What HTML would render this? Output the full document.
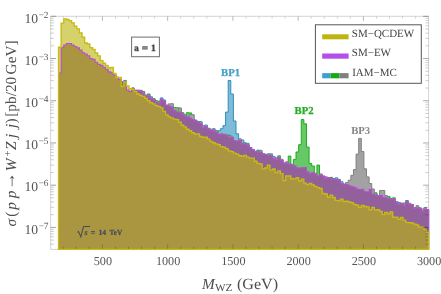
<!DOCTYPE html><html><head><meta charset="utf-8"><style>svg text{font-family:"Liberation Serif",serif;text-rendering:geometricPrecision;}html,body{margin:0;padding:0;background:#fff;}body{width:441px;height:294px;position:relative;overflow:hidden;font-family:"Liberation Serif",serif;}</style></head><body><svg width="441" height="294" viewBox="0 0 441 294" style="position:absolute;left:0;top:0;will-change:transform;opacity:0.999">
<rect width="441" height="294" fill="#fff"/>
<g fill="none" stroke="#c8c8c8" stroke-width="0.8">
<path d="M50.60 16.30H428.60"/>
<path d="M50.60 16.30V249.40"/>
<path d="M428.60 16.30V249.40"/>
<path d="M50.60 249.40H58.53"/>
</g>
<g stroke-linejoin="miter" stroke-width="1">
<path d="M58.53 249.40V73.53H61.14V46.54H63.75V44.07H66.36V43.33H68.97V43.88H71.58V45.06H74.19V44.84H76.80V47.88H79.41V50.38H82.02V50.84H84.63V53.96H87.24V56.39H89.85V58.37H92.46V59.98H95.07V61.46H97.68V64.15H100.29V63.38H102.90V67.45H105.51V69.59H108.12V71.28H110.73V73.06H113.34V74.79H115.95V77.37H118.56V80.23H121.17V82.42H123.78V80.46H126.39V90.46H129.00V89.44H131.61V89.90H134.22V90.32H136.83V90.31H139.44V91.31H142.05V94.48H144.66V96.06H147.27V94.32H149.88V96.84H152.49V99.40H155.10V102.63H157.71V103.08H160.32V97.90H162.93V100.06H165.54V105.84H168.15V106.01H170.76V108.40H173.37V108.60H175.98V112.10H178.59V112.51H181.20V113.68H183.81V115.86H186.42V117.66H189.03V117.77H191.64V120.32H194.25V120.00H196.86V121.51H199.47V121.63H202.08V127.13H204.69V125.01H207.30V129.71H209.91V130.15H212.52V128.71H215.13V132.78H217.74V130.80H220.35V128.70H222.96V125.60H225.57V112.10H228.18V80.50H230.79V94.00H233.40V121.00H236.01V133.80H238.62V139.00H241.23V140.00H243.84V142.99H246.45V143.31H249.06V148.27H251.67V149.57H254.28V151.85H256.89V150.11H259.50V152.50H262.11V153.64H264.72V154.91H267.33V153.86H269.94V155.27H272.55V156.57H275.16V157.86H277.77V158.14H280.38V160.16H282.99V163.95H285.60V163.83H288.21V163.39H290.82V164.32H293.43V166.60H296.04V168.50H298.65V168.88H301.26V168.85H303.87V168.58H306.48V172.21H309.09V172.34H311.70V173.47H314.31V174.91H316.92V175.91H319.53V175.36H322.14V176.14H324.75V178.28H327.36V177.68H329.97V179.25H332.58V178.60H335.19V177.82H337.80V181.18H340.41V181.71H343.02V184.80H345.63V185.23H348.24V186.21H350.85V185.20H353.46V187.00H356.07V189.28H358.68V187.34H361.29V189.95H363.90V190.52H366.51V192.42H369.12V188.18H371.73V192.98H374.34V193.64H376.95V195.53H379.56V196.23H382.17V197.73H384.78V197.88H387.39V198.49H390.00V199.57H392.61V199.87H395.22V202.84H397.83V202.45H400.44V203.40H403.05V205.10H405.66V200.51H408.27V204.11H410.88V204.63H413.49V208.31H416.10V207.90H418.71V207.82H421.32V209.75H423.93V207.58H426.54V209.75H428.60V249.40Z" fill="#7dbbd9" stroke="#338db9"/>
<path d="M58.53 249.40V73.12H61.14V48.50H63.75V45.03H66.36V43.80H68.97V44.41H71.58V45.77H74.19V45.48H76.80V48.63H79.41V49.73H82.02V53.20H84.63V54.11H87.24V56.10H89.85V59.50H92.46V58.19H95.07V62.90H97.68V65.18H100.29V64.27H102.90V67.40H105.51V69.92H108.12V72.30H110.73V73.75H113.34V75.74H115.95V77.28H118.56V78.17H121.17V81.54H123.78V82.65H126.39V87.89H129.00V89.97H131.61V88.06H134.22V91.33H136.83V90.84H139.44V91.09H142.05V91.46H144.66V96.27H147.27V94.10H149.88V98.81H152.49V98.65H155.10V100.70H157.71V101.30H160.32V100.24H162.93V101.17H165.54V106.12H168.15V106.49H170.76V107.23H173.37V107.60H175.98V107.80H178.59V108.20H181.20V112.70H183.81V114.97H186.42V112.70H189.03V112.90H191.64V119.44H194.25V120.81H196.86V121.80H199.47V124.24H202.08V127.71H204.69V126.92H207.30V128.22H209.91V131.24H212.52V131.39H215.13V130.63H217.74V134.90H220.35V135.43H222.96V134.77H225.57V134.97H228.18V135.30H230.79V138.35H233.40V140.51H236.01V141.94H238.62V139.90H241.23V143.43H243.84V143.00H246.45V145.00H249.06V147.90H251.67V150.08H254.28V151.74H256.89V151.14H259.50V153.25H262.11V154.51H264.72V155.18H267.33V154.96H269.94V155.73H272.55V158.44H275.16V160.81H277.77V155.84H280.38V160.75H282.99V164.11H285.60V162.94H288.21V156.10H290.82V165.92H293.43V159.40H296.04V152.00H298.65V144.70H301.26V119.60H303.87V123.80H306.48V147.10H309.09V163.50H311.70V166.00H314.31V173.47H316.92V165.10H319.53V174.30H322.14V176.66H324.75V179.07H327.36V178.50H329.97V177.36H332.58V179.57H335.19V179.99H337.80V179.40H340.41V183.74H343.02V184.03H345.63V184.67H348.24V186.47H350.85V186.31H353.46V186.59H356.07V187.71H358.68V190.23H361.29V189.45H363.90V192.47H366.51V192.67H369.12V190.28H371.73V192.19H374.34V192.76H376.95V196.92H379.56V194.27H382.17V197.18H384.78V196.50H387.39V196.48H390.00V198.31H392.61V197.84H395.22V202.53H397.83V204.09H400.44V203.79H403.05V203.06H405.66V202.91H408.27V204.70H410.88V205.27H413.49V207.86H416.10V206.64H418.71V209.31H421.32V211.66H423.93V209.45H426.54V210.01H428.60V249.40Z" fill="#66c866" stroke="#1eaa1e"/>
<path d="M58.53 249.40V71.64H61.14V47.30H63.75V43.82H66.36V44.46H68.97V43.44H71.58V46.05H74.19V45.80H76.80V48.57H79.41V49.83H82.02V53.35H84.63V54.20H87.24V54.15H89.85V59.24H92.46V57.39H95.07V62.48H97.68V65.17H100.29V63.94H102.90V67.06H105.51V69.97H108.12V72.26H110.73V73.66H113.34V75.04H115.95V77.50H118.56V80.07H121.17V82.33H123.78V82.90H126.39V88.20H129.00V90.80H131.61V88.02H134.22V90.23H136.83V90.22H139.44V90.27H142.05V93.40H144.66V95.72H147.27V94.93H149.88V98.32H152.49V99.70H155.10V103.14H157.71V103.72H160.32V99.92H162.93V101.84H165.54V105.00H168.15V103.90H170.76V103.70H173.37V110.31H175.98V112.70H178.59V108.00H181.20V114.77H183.81V114.70H186.42V116.81H189.03V114.50H191.64V114.70H194.25V121.24H196.86V123.02H199.47V123.72H202.08V125.46H204.69V127.62H207.30V129.09H209.91V129.22H212.52V129.91H215.13V130.85H217.74V134.97H220.35V133.69H222.96V135.04H225.57V136.56H228.18V137.64H230.79V136.87H233.40V141.09H236.01V142.00H238.62V138.94H241.23V144.80H243.84V143.77H246.45V145.42H249.06V147.90H251.67V149.46H254.28V151.93H256.89V152.92H259.50V150.37H262.11V154.26H264.72V154.32H267.33V156.75H269.94V153.83H272.55V158.36H275.16V158.24H277.77V157.92H280.38V159.31H282.99V162.91H285.60V161.76H288.21V163.99H290.82V164.44H293.43V165.73H296.04V168.81H298.65V168.61H301.26V168.06H303.87V168.39H306.48V172.63H309.09V173.60H311.70V173.37H314.31V173.23H316.92V176.49H319.53V174.02H322.14V176.25H324.75V176.87H327.36V178.46H329.97V179.55H332.58V179.69H335.19V180.21H337.80V180.64H340.41V183.80H343.02V185.10H345.63V182.50H348.24V180.20H350.85V175.30H353.46V169.60H356.07V154.10H358.68V138.40H361.29V151.50H363.90V168.80H366.51V176.90H369.12V183.50H371.73V189.00H374.34V195.39H376.95V196.99H379.56V190.50H382.17V190.50H384.78V195.56H387.39V198.39H390.00V199.78H392.61V198.86H395.22V201.52H397.83V205.18H400.44V203.86H403.05V205.97H405.66V201.75H408.27V203.18H410.88V205.29H413.49V207.58H416.10V205.71H418.71V208.31H421.32V209.07H423.93V208.07H426.54V210.10H428.60V249.40Z" fill="#a2a2a2" stroke="#808080"/>
<path d="M58.53 249.40V47.20H61.14V23.10H63.75V18.90H66.36V19.50H68.97V20.60H71.58V22.80H74.19V26.10H76.80V28.90H79.41V32.90H82.02V37.20H84.63V43.00H87.24V44.00H89.85V47.60H92.46V49.40H95.07V52.80H97.68V55.80H100.29V60.60H102.90V63.20H105.51V65.30H108.12V67.80H110.73V67.30H113.34V73.40H115.95V77.50H118.56V77.30H121.17V86.50H123.78V81.80H126.39V85.80H129.00V88.60H131.61V89.30H134.22V91.60H136.83V94.00H139.44V95.20H142.05V96.40H144.66V98.20H147.27V100.70H149.88V102.70H152.49V103.90H155.10V105.50H157.71V106.40H160.32V107.60H162.93V111.30H165.54V114.91H168.15V116.89H170.76V118.16H173.37V119.12H175.98V119.67H178.59V122.23H181.20V125.23H183.81V126.94H186.42V129.26H189.03V130.75H191.64V132.75H194.25V134.03H196.86V134.02H199.47V136.47H202.08V137.22H204.69V137.09H207.30V139.12H209.91V141.39H212.52V142.79H215.13V143.92H217.74V144.56H220.35V146.65H222.96V147.20H225.57V148.70H228.18V150.86H230.79V151.68H233.40V153.18H236.01V154.07H238.62V155.71H241.23V156.21H243.84V155.30H246.45V157.08H249.06V158.09H251.67V158.12H254.28V161.27H256.89V163.40H259.50V163.90H262.11V168.80H264.72V168.00H267.33V165.10H269.94V170.12H272.55V169.00H275.16V172.59H277.77V170.90H280.38V173.61H282.99V180.50H285.60V175.84H288.21V176.02H290.82V178.74H293.43V178.93H296.04V177.78H298.65V180.97H301.26V179.28H303.87V183.06H306.48V184.62H309.09V183.31H311.70V185.02H314.31V186.30H316.92V187.56H319.53V188.47H322.14V193.54H324.75V193.95H327.36V197.21H329.97V195.13H332.58V197.50H335.19V200.32H337.80V200.87H340.41V199.05H343.02V201.48H345.63V201.24H348.24V202.04H350.85V202.69H353.46V204.36H356.07V205.27H358.68V207.33H361.29V205.34H363.90V206.48H366.51V206.82H369.12V209.93H371.73V207.42H374.34V209.85H376.95V209.72H379.56V211.33H382.17V214.56H384.78V212.32H387.39V213.73H390.00V212.04H392.61V217.23H395.22V217.13H397.83V219.23H400.44V217.49H403.05V220.07H405.66V222.32H408.27V222.56H410.88V223.00H413.49V224.09H416.10V224.97H418.71V227.08H421.32V227.17H423.93V229.31H426.54V231.97H428.60V249.40Z" fill="#d5d26b" stroke="none"/>
<path d="M58.53 249.40V73.00H61.14V47.50H63.75V45.00H66.36V43.50H68.97V43.50H71.58V45.10H74.19V46.50H76.80V47.90H79.41V50.00H82.02V52.70H84.63V54.00H87.24V55.90H89.85V58.60H92.46V59.20H95.07V62.30H97.68V64.20H100.29V65.30H102.90V67.30H105.51V69.30H108.12V71.90H110.73V72.90H113.34V75.00H115.95V77.50H118.56V79.50H121.17V81.80H123.78V82.00H126.39V90.00H129.00V91.50H131.61V89.50H134.22V90.50H136.83V90.50H139.44V91.00H142.05V93.50H144.66V95.30H147.27V96.20H149.88V98.20H152.49V99.80H155.10V102.30H157.71V103.10H160.32V99.40H162.93V101.10H165.54V105.50H168.15V106.00H170.76V107.00H173.37V110.60H175.98V112.00H178.59V112.20H181.20V113.90H183.81V116.00H186.42V117.00H189.03V118.00H191.64V119.50H194.25V121.00H196.86V122.50H199.47V123.30H202.08V127.30H204.69V126.76H207.30V128.89H209.91V130.41H212.52V130.84H215.13V132.41H217.74V134.23H220.35V134.82H222.96V134.28H225.57V135.83H228.18V137.35H230.79V137.64H233.40V140.80H236.01V141.12H238.62V140.65H241.23V144.17H243.84V144.01H246.45V145.16H249.06V147.44H251.67V149.76H254.28V151.18H256.89V152.18H259.50V152.41H262.11V154.33H264.72V154.46H267.33V155.96H269.94V155.31H272.55V158.54H275.16V159.84H277.77V157.58H280.38V160.37H282.99V163.12H285.60V163.14H288.21V164.24H290.82V165.25H293.43V166.00H296.04V167.88H298.65V168.12H301.26V167.87H303.87V167.60H306.48V171.92H309.09V173.70H311.70V172.60H314.31V174.47H316.92V175.99H319.53V175.01H322.14V176.41H324.75V178.37H327.36V177.51H329.97V178.70H332.58V179.41H335.19V179.61H337.80V180.40H340.41V183.66H343.02V184.67H345.63V184.55H348.24V185.81H350.85V186.51H353.46V187.25H356.07V188.99H358.68V189.49H361.29V189.41H363.90V191.73H366.51V192.07H369.12V189.58H371.73V194.00H374.34V194.88H376.95V196.16H379.56V195.53H382.17V197.41H384.78V197.73H387.39V198.64H390.00V198.99H392.61V199.07H395.22V202.68H397.83V204.39H400.44V203.22H403.05V205.15H405.66V201.95H408.27V204.20H410.88V204.70H413.49V208.47H416.10V207.81H418.71V208.47H421.32V210.93H423.93V209.52H426.54V209.57H428.60V249.40Z" fill="#92609a" stroke="none"/>
<path d="M58.53 249.40V73.00H61.14V47.50H63.75V45.00H66.36V43.50H68.97V43.50H71.58V45.10H74.19V46.50H76.80V47.90H79.41V50.00H82.02V52.70H84.63V54.00H87.24V55.90H89.85V58.60H92.46V59.20H95.07V62.30H97.68V64.20H100.29V65.30H102.90V67.30H105.51V69.30H108.12V71.90H110.73V72.90H113.34V75.00H115.95V77.50H118.56V79.50H121.17V86.50H123.78V82.00H126.39V90.00H129.00V91.50H131.61V89.50H134.22V91.60H136.83V94.00H139.44V95.20H142.05V96.40H144.66V98.20H147.27V100.70H149.88V102.70H152.49V103.90H155.10V105.50H157.71V106.40H160.32V107.60H162.93V111.30H165.54V114.91H168.15V116.89H170.76V118.16H173.37V119.12H175.98V119.67H178.59V122.23H181.20V125.23H183.81V126.94H186.42V129.26H189.03V130.75H191.64V132.75H194.25V134.03H196.86V134.02H199.47V136.47H202.08V137.22H204.69V137.09H207.30V139.12H209.91V141.39H212.52V142.79H215.13V143.92H217.74V144.56H220.35V146.65H222.96V147.20H225.57V148.70H228.18V150.86H230.79V151.68H233.40V153.18H236.01V154.07H238.62V155.71H241.23V156.21H243.84V155.30H246.45V157.08H249.06V158.09H251.67V158.12H254.28V161.27H256.89V163.40H259.50V163.90H262.11V168.80H264.72V168.00H267.33V165.10H269.94V170.12H272.55V169.00H275.16V172.59H277.77V170.90H280.38V173.61H282.99V180.50H285.60V175.84H288.21V176.02H290.82V178.74H293.43V178.93H296.04V177.78H298.65V180.97H301.26V179.28H303.87V183.06H306.48V184.62H309.09V183.31H311.70V185.02H314.31V186.30H316.92V187.56H319.53V188.47H322.14V193.54H324.75V193.95H327.36V197.21H329.97V195.13H332.58V197.50H335.19V200.32H337.80V200.87H340.41V199.05H343.02V201.48H345.63V201.24H348.24V202.04H350.85V202.69H353.46V204.36H356.07V205.27H358.68V207.33H361.29V205.34H363.90V206.48H366.51V206.82H369.12V209.93H371.73V207.42H374.34V209.85H376.95V209.72H379.56V211.33H382.17V214.56H384.78V212.32H387.39V213.73H390.00V212.04H392.61V217.23H395.22V217.13H397.83V219.23H400.44V217.49H403.05V220.07H405.66V222.32H408.27V222.56H410.88V223.00H413.49V224.09H416.10V224.97H418.71V227.08H421.32V227.17H423.93V229.31H426.54V231.97H428.60V249.40Z" fill="#aa9641" stroke="none"/>
<path d="M58.53 249.40V73.00H61.14V47.50H63.75V45.00H66.36V43.50H68.97V43.50H71.58V45.10H74.19V46.50H76.80V47.90H79.41V50.00H82.02V52.70H84.63V54.00H87.24V55.90H89.85V58.60H92.46V59.20H95.07V62.30H97.68V64.20H100.29V65.30H102.90V67.30H105.51V69.30H108.12V71.90H110.73V72.90H113.34V75.00H115.95V77.50H118.56V79.50H121.17V81.80H123.78V82.00H126.39V90.00H129.00V91.50H131.61V89.50H134.22V90.50H136.83V90.50H139.44V91.00H142.05V93.50H144.66V95.30H147.27V96.20H149.88V98.20H152.49V99.80H155.10V102.30H157.71V103.10H160.32V99.40H162.93V101.10H165.54V105.50H168.15V106.00H170.76V107.00H173.37V110.60H175.98V112.00H178.59V112.20H181.20V113.90H183.81V116.00H186.42V117.00H189.03V118.00H191.64V119.50H194.25V121.00H196.86V122.50H199.47V123.30H202.08V127.30H204.69V126.76H207.30V128.89H209.91V130.41H212.52V130.84H215.13V132.41H217.74V134.23H220.35V134.82H222.96V134.28H225.57V135.83H228.18V137.35H230.79V137.64H233.40V140.80H236.01V141.12H238.62V140.65H241.23V144.17H243.84V144.01H246.45V145.16H249.06V147.44H251.67V149.76H254.28V151.18H256.89V152.18H259.50V152.41H262.11V154.33H264.72V154.46H267.33V155.96H269.94V155.31H272.55V158.54H275.16V159.84H277.77V157.58H280.38V160.37H282.99V163.12H285.60V163.14H288.21V164.24H290.82V165.25H293.43V166.00H296.04V167.88H298.65V168.12H301.26V167.87H303.87V167.60H306.48V171.92H309.09V173.70H311.70V172.60H314.31V174.47H316.92V175.99H319.53V175.01H322.14V176.41H324.75V178.37H327.36V177.51H329.97V178.70H332.58V179.41H335.19V179.61H337.80V180.40H340.41V183.66H343.02V184.67H345.63V184.55H348.24V185.81H350.85V186.51H353.46V187.25H356.07V188.99H358.68V189.49H361.29V189.41H363.90V191.73H366.51V192.07H369.12V189.58H371.73V194.00H374.34V194.88H376.95V196.16H379.56V195.53H382.17V197.41H384.78V197.73H387.39V198.64H390.00V198.99H392.61V199.07H395.22V202.68H397.83V204.39H400.44V203.22H403.05V205.15H405.66V201.95H408.27V204.20H410.88V204.70H413.49V208.47H416.10V207.81H418.71V208.47H421.32V210.93H423.93V209.52H426.54V209.57H428.60V249.40" fill="none" stroke="#b94fd0" stroke-width="1.1"/>
<path d="M58.53 249.40V47.20H61.14V23.10H63.75V18.90H66.36V19.50H68.97V20.60H71.58V22.80H74.19V26.10H76.80V28.90H79.41V32.90H82.02V37.20H84.63V43.00H87.24V44.00H89.85V47.60H92.46V49.40H95.07V52.80H97.68V55.80H100.29V60.60H102.90V63.20H105.51V65.30H108.12V67.80H110.73V67.30H113.34V73.40H115.95V77.50H118.56V77.30H121.17V86.50H123.78V81.80H126.39V85.80H129.00V88.60H131.61V89.30H134.22V91.60H136.83V94.00H139.44V95.20H142.05V96.40H144.66V98.20H147.27V100.70H149.88V102.70H152.49V103.90H155.10V105.50H157.71V106.40H160.32V107.60H162.93V111.30H165.54V114.91H168.15V116.89H170.76V118.16H173.37V119.12H175.98V119.67H178.59V122.23H181.20V125.23H183.81V126.94H186.42V129.26H189.03V130.75H191.64V132.75H194.25V134.03H196.86V134.02H199.47V136.47H202.08V137.22H204.69V137.09H207.30V139.12H209.91V141.39H212.52V142.79H215.13V143.92H217.74V144.56H220.35V146.65H222.96V147.20H225.57V148.70H228.18V150.86H230.79V151.68H233.40V153.18H236.01V154.07H238.62V155.71H241.23V156.21H243.84V155.30H246.45V157.08H249.06V158.09H251.67V158.12H254.28V161.27H256.89V163.40H259.50V163.90H262.11V168.80H264.72V168.00H267.33V165.10H269.94V170.12H272.55V169.00H275.16V172.59H277.77V170.90H280.38V173.61H282.99V180.50H285.60V175.84H288.21V176.02H290.82V178.74H293.43V178.93H296.04V177.78H298.65V180.97H301.26V179.28H303.87V183.06H306.48V184.62H309.09V183.31H311.70V185.02H314.31V186.30H316.92V187.56H319.53V188.47H322.14V193.54H324.75V193.95H327.36V197.21H329.97V195.13H332.58V197.50H335.19V200.32H337.80V200.87H340.41V199.05H343.02V201.48H345.63V201.24H348.24V202.04H350.85V202.69H353.46V204.36H356.07V205.27H358.68V207.33H361.29V205.34H363.90V206.48H366.51V206.82H369.12V209.93H371.73V207.42H374.34V209.85H376.95V209.72H379.56V211.33H382.17V214.56H384.78V212.32H387.39V213.73H390.00V212.04H392.61V217.23H395.22V217.13H397.83V219.23H400.44V217.49H403.05V220.07H405.66V222.32H408.27V222.56H410.88V223.00H413.49V224.09H416.10V224.97H418.71V227.08H421.32V227.17H423.93V229.31H426.54V231.97H428.60V249.40Z" fill="none" stroke="#c6bb12" stroke-width="1.35"/>
</g>
<path d="M50.60 16.30h5.50" stroke="#8c8c8c" stroke-width="0.8"/>
<path d="M428.60 16.30h-5.50" stroke="rgba(0,0,0,0.42)" stroke-width="0.8"/>
<path d="M50.60 45.81h3.20" stroke="#bdbdbd" stroke-width="0.8"/>
<path d="M428.60 45.81h-3.20" stroke="rgba(0,0,0,0.24)" stroke-width="0.8"/>
<path d="M50.60 38.38h3.20" stroke="#bdbdbd" stroke-width="0.8"/>
<path d="M428.60 38.38h-3.20" stroke="rgba(0,0,0,0.24)" stroke-width="0.8"/>
<path d="M50.60 33.10h3.20" stroke="#bdbdbd" stroke-width="0.8"/>
<path d="M428.60 33.10h-3.20" stroke="rgba(0,0,0,0.24)" stroke-width="0.8"/>
<path d="M50.60 29.01h3.20" stroke="#bdbdbd" stroke-width="0.8"/>
<path d="M428.60 29.01h-3.20" stroke="rgba(0,0,0,0.24)" stroke-width="0.8"/>
<path d="M50.60 25.67h3.20" stroke="#bdbdbd" stroke-width="0.8"/>
<path d="M428.60 25.67h-3.20" stroke="rgba(0,0,0,0.24)" stroke-width="0.8"/>
<path d="M50.60 22.84h3.20" stroke="#bdbdbd" stroke-width="0.8"/>
<path d="M428.60 22.84h-3.20" stroke="rgba(0,0,0,0.24)" stroke-width="0.8"/>
<path d="M50.60 20.39h3.20" stroke="#bdbdbd" stroke-width="0.8"/>
<path d="M428.60 20.39h-3.20" stroke="rgba(0,0,0,0.24)" stroke-width="0.8"/>
<path d="M50.60 18.23h3.20" stroke="#bdbdbd" stroke-width="0.8"/>
<path d="M428.60 18.23h-3.20" stroke="rgba(0,0,0,0.24)" stroke-width="0.8"/>
<path d="M50.60 58.52h5.50" stroke="#8c8c8c" stroke-width="0.8"/>
<path d="M428.60 58.52h-5.50" stroke="rgba(0,0,0,0.42)" stroke-width="0.8"/>
<path d="M50.60 88.03h3.20" stroke="#bdbdbd" stroke-width="0.8"/>
<path d="M428.60 88.03h-3.20" stroke="rgba(0,0,0,0.24)" stroke-width="0.8"/>
<path d="M50.60 80.60h3.20" stroke="#bdbdbd" stroke-width="0.8"/>
<path d="M428.60 80.60h-3.20" stroke="rgba(0,0,0,0.24)" stroke-width="0.8"/>
<path d="M50.60 75.32h3.20" stroke="#bdbdbd" stroke-width="0.8"/>
<path d="M428.60 75.32h-3.20" stroke="rgba(0,0,0,0.24)" stroke-width="0.8"/>
<path d="M50.60 71.23h3.20" stroke="#bdbdbd" stroke-width="0.8"/>
<path d="M428.60 71.23h-3.20" stroke="rgba(0,0,0,0.24)" stroke-width="0.8"/>
<path d="M50.60 67.89h3.20" stroke="#bdbdbd" stroke-width="0.8"/>
<path d="M428.60 67.89h-3.20" stroke="rgba(0,0,0,0.24)" stroke-width="0.8"/>
<path d="M50.60 65.06h3.20" stroke="#bdbdbd" stroke-width="0.8"/>
<path d="M428.60 65.06h-3.20" stroke="rgba(0,0,0,0.24)" stroke-width="0.8"/>
<path d="M50.60 62.61h3.20" stroke="#bdbdbd" stroke-width="0.8"/>
<path d="M428.60 62.61h-3.20" stroke="rgba(0,0,0,0.24)" stroke-width="0.8"/>
<path d="M50.60 60.45h3.20" stroke="#bdbdbd" stroke-width="0.8"/>
<path d="M428.60 60.45h-3.20" stroke="rgba(0,0,0,0.24)" stroke-width="0.8"/>
<path d="M50.60 100.74h5.50" stroke="#8c8c8c" stroke-width="0.8"/>
<path d="M428.60 100.74h-5.50" stroke="rgba(0,0,0,0.42)" stroke-width="0.8"/>
<path d="M50.60 130.25h3.20" stroke="#bdbdbd" stroke-width="0.8"/>
<path d="M428.60 130.25h-3.20" stroke="rgba(0,0,0,0.24)" stroke-width="0.8"/>
<path d="M50.60 122.82h3.20" stroke="#bdbdbd" stroke-width="0.8"/>
<path d="M428.60 122.82h-3.20" stroke="rgba(0,0,0,0.24)" stroke-width="0.8"/>
<path d="M50.60 117.54h3.20" stroke="#bdbdbd" stroke-width="0.8"/>
<path d="M428.60 117.54h-3.20" stroke="rgba(0,0,0,0.24)" stroke-width="0.8"/>
<path d="M50.60 113.45h3.20" stroke="#bdbdbd" stroke-width="0.8"/>
<path d="M428.60 113.45h-3.20" stroke="rgba(0,0,0,0.24)" stroke-width="0.8"/>
<path d="M50.60 110.11h3.20" stroke="#bdbdbd" stroke-width="0.8"/>
<path d="M428.60 110.11h-3.20" stroke="rgba(0,0,0,0.24)" stroke-width="0.8"/>
<path d="M50.60 107.28h3.20" stroke="#bdbdbd" stroke-width="0.8"/>
<path d="M428.60 107.28h-3.20" stroke="rgba(0,0,0,0.24)" stroke-width="0.8"/>
<path d="M50.60 104.83h3.20" stroke="#bdbdbd" stroke-width="0.8"/>
<path d="M428.60 104.83h-3.20" stroke="rgba(0,0,0,0.24)" stroke-width="0.8"/>
<path d="M50.60 102.67h3.20" stroke="#bdbdbd" stroke-width="0.8"/>
<path d="M428.60 102.67h-3.20" stroke="rgba(0,0,0,0.24)" stroke-width="0.8"/>
<path d="M50.60 142.96h5.50" stroke="#8c8c8c" stroke-width="0.8"/>
<path d="M428.60 142.96h-5.50" stroke="rgba(0,0,0,0.42)" stroke-width="0.8"/>
<path d="M50.60 172.47h3.20" stroke="#bdbdbd" stroke-width="0.8"/>
<path d="M428.60 172.47h-3.20" stroke="rgba(0,0,0,0.24)" stroke-width="0.8"/>
<path d="M50.60 165.04h3.20" stroke="#bdbdbd" stroke-width="0.8"/>
<path d="M428.60 165.04h-3.20" stroke="rgba(0,0,0,0.24)" stroke-width="0.8"/>
<path d="M50.60 159.76h3.20" stroke="#bdbdbd" stroke-width="0.8"/>
<path d="M428.60 159.76h-3.20" stroke="rgba(0,0,0,0.24)" stroke-width="0.8"/>
<path d="M50.60 155.67h3.20" stroke="#bdbdbd" stroke-width="0.8"/>
<path d="M428.60 155.67h-3.20" stroke="rgba(0,0,0,0.24)" stroke-width="0.8"/>
<path d="M50.60 152.33h3.20" stroke="#bdbdbd" stroke-width="0.8"/>
<path d="M428.60 152.33h-3.20" stroke="rgba(0,0,0,0.24)" stroke-width="0.8"/>
<path d="M50.60 149.50h3.20" stroke="#bdbdbd" stroke-width="0.8"/>
<path d="M428.60 149.50h-3.20" stroke="rgba(0,0,0,0.24)" stroke-width="0.8"/>
<path d="M50.60 147.05h3.20" stroke="#bdbdbd" stroke-width="0.8"/>
<path d="M428.60 147.05h-3.20" stroke="rgba(0,0,0,0.24)" stroke-width="0.8"/>
<path d="M50.60 144.89h3.20" stroke="#bdbdbd" stroke-width="0.8"/>
<path d="M428.60 144.89h-3.20" stroke="rgba(0,0,0,0.24)" stroke-width="0.8"/>
<path d="M50.60 185.18h5.50" stroke="#8c8c8c" stroke-width="0.8"/>
<path d="M428.60 185.18h-5.50" stroke="rgba(0,0,0,0.42)" stroke-width="0.8"/>
<path d="M50.60 214.69h3.20" stroke="#bdbdbd" stroke-width="0.8"/>
<path d="M428.60 214.69h-3.20" stroke="rgba(0,0,0,0.24)" stroke-width="0.8"/>
<path d="M50.60 207.26h3.20" stroke="#bdbdbd" stroke-width="0.8"/>
<path d="M428.60 207.26h-3.20" stroke="rgba(0,0,0,0.24)" stroke-width="0.8"/>
<path d="M50.60 201.98h3.20" stroke="#bdbdbd" stroke-width="0.8"/>
<path d="M428.60 201.98h-3.20" stroke="rgba(0,0,0,0.24)" stroke-width="0.8"/>
<path d="M50.60 197.89h3.20" stroke="#bdbdbd" stroke-width="0.8"/>
<path d="M428.60 197.89h-3.20" stroke="rgba(0,0,0,0.24)" stroke-width="0.8"/>
<path d="M50.60 194.55h3.20" stroke="#bdbdbd" stroke-width="0.8"/>
<path d="M428.60 194.55h-3.20" stroke="rgba(0,0,0,0.24)" stroke-width="0.8"/>
<path d="M50.60 191.72h3.20" stroke="#bdbdbd" stroke-width="0.8"/>
<path d="M428.60 191.72h-3.20" stroke="rgba(0,0,0,0.24)" stroke-width="0.8"/>
<path d="M50.60 189.27h3.20" stroke="#bdbdbd" stroke-width="0.8"/>
<path d="M428.60 189.27h-3.20" stroke="rgba(0,0,0,0.24)" stroke-width="0.8"/>
<path d="M50.60 187.11h3.20" stroke="#bdbdbd" stroke-width="0.8"/>
<path d="M428.60 187.11h-3.20" stroke="rgba(0,0,0,0.24)" stroke-width="0.8"/>
<path d="M50.60 227.40h5.50" stroke="#8c8c8c" stroke-width="0.8"/>
<path d="M428.60 227.40h-5.50" stroke="rgba(0,0,0,0.42)" stroke-width="0.8"/>
<path d="M50.60 244.20h3.20" stroke="#bdbdbd" stroke-width="0.8"/>
<path d="M428.60 244.20h-3.20" stroke="rgba(0,0,0,0.24)" stroke-width="0.8"/>
<path d="M50.60 240.11h3.20" stroke="#bdbdbd" stroke-width="0.8"/>
<path d="M428.60 240.11h-3.20" stroke="rgba(0,0,0,0.24)" stroke-width="0.8"/>
<path d="M50.60 236.77h3.20" stroke="#bdbdbd" stroke-width="0.8"/>
<path d="M428.60 236.77h-3.20" stroke="rgba(0,0,0,0.24)" stroke-width="0.8"/>
<path d="M50.60 233.94h3.20" stroke="#bdbdbd" stroke-width="0.8"/>
<path d="M428.60 233.94h-3.20" stroke="rgba(0,0,0,0.24)" stroke-width="0.8"/>
<path d="M50.60 231.49h3.20" stroke="#bdbdbd" stroke-width="0.8"/>
<path d="M428.60 231.49h-3.20" stroke="rgba(0,0,0,0.24)" stroke-width="0.8"/>
<path d="M50.60 229.33h3.20" stroke="#bdbdbd" stroke-width="0.8"/>
<path d="M428.60 229.33h-3.20" stroke="rgba(0,0,0,0.24)" stroke-width="0.8"/>
<path d="M63.25 248.90v-2.30" stroke="rgba(40,40,40,0.32)" stroke-width="0.8"/>
<path d="M63.25 16.30v2.30" stroke="#c4c4c4" stroke-width="0.8"/>
<path d="M76.30 248.90v-2.30" stroke="rgba(40,40,40,0.32)" stroke-width="0.8"/>
<path d="M76.30 16.30v2.30" stroke="#c4c4c4" stroke-width="0.8"/>
<path d="M89.35 248.90v-2.30" stroke="rgba(40,40,40,0.32)" stroke-width="0.8"/>
<path d="M89.35 16.30v2.30" stroke="#c4c4c4" stroke-width="0.8"/>
<path d="M102.40 248.90v-4.50" stroke="rgba(40,40,40,0.32)" stroke-width="0.8"/>
<path d="M102.40 16.30v4.50" stroke="#a6a6a6" stroke-width="0.8"/>
<path d="M115.45 248.90v-2.30" stroke="rgba(40,40,40,0.32)" stroke-width="0.8"/>
<path d="M115.45 16.30v2.30" stroke="#c4c4c4" stroke-width="0.8"/>
<path d="M128.50 248.90v-2.30" stroke="rgba(40,40,40,0.32)" stroke-width="0.8"/>
<path d="M128.50 16.30v2.30" stroke="#c4c4c4" stroke-width="0.8"/>
<path d="M141.55 248.90v-2.30" stroke="rgba(40,40,40,0.32)" stroke-width="0.8"/>
<path d="M141.55 16.30v2.30" stroke="#c4c4c4" stroke-width="0.8"/>
<path d="M154.60 248.90v-2.30" stroke="rgba(40,40,40,0.32)" stroke-width="0.8"/>
<path d="M154.60 16.30v2.30" stroke="#c4c4c4" stroke-width="0.8"/>
<path d="M167.65 248.90v-4.50" stroke="rgba(40,40,40,0.32)" stroke-width="0.8"/>
<path d="M167.65 16.30v4.50" stroke="#a6a6a6" stroke-width="0.8"/>
<path d="M180.70 248.90v-2.30" stroke="rgba(40,40,40,0.32)" stroke-width="0.8"/>
<path d="M180.70 16.30v2.30" stroke="#c4c4c4" stroke-width="0.8"/>
<path d="M193.75 248.90v-2.30" stroke="rgba(40,40,40,0.32)" stroke-width="0.8"/>
<path d="M193.75 16.30v2.30" stroke="#c4c4c4" stroke-width="0.8"/>
<path d="M206.80 248.90v-2.30" stroke="rgba(40,40,40,0.32)" stroke-width="0.8"/>
<path d="M206.80 16.30v2.30" stroke="#c4c4c4" stroke-width="0.8"/>
<path d="M219.85 248.90v-2.30" stroke="rgba(40,40,40,0.32)" stroke-width="0.8"/>
<path d="M219.85 16.30v2.30" stroke="#c4c4c4" stroke-width="0.8"/>
<path d="M232.90 248.90v-4.50" stroke="rgba(40,40,40,0.32)" stroke-width="0.8"/>
<path d="M232.90 16.30v4.50" stroke="#a6a6a6" stroke-width="0.8"/>
<path d="M245.95 248.90v-2.30" stroke="rgba(40,40,40,0.32)" stroke-width="0.8"/>
<path d="M245.95 16.30v2.30" stroke="#c4c4c4" stroke-width="0.8"/>
<path d="M259.00 248.90v-2.30" stroke="rgba(40,40,40,0.32)" stroke-width="0.8"/>
<path d="M259.00 16.30v2.30" stroke="#c4c4c4" stroke-width="0.8"/>
<path d="M272.05 248.90v-2.30" stroke="rgba(40,40,40,0.32)" stroke-width="0.8"/>
<path d="M272.05 16.30v2.30" stroke="#c4c4c4" stroke-width="0.8"/>
<path d="M285.10 248.90v-2.30" stroke="rgba(40,40,40,0.32)" stroke-width="0.8"/>
<path d="M285.10 16.30v2.30" stroke="#c4c4c4" stroke-width="0.8"/>
<path d="M298.15 248.90v-4.50" stroke="rgba(40,40,40,0.32)" stroke-width="0.8"/>
<path d="M298.15 16.30v4.50" stroke="#a6a6a6" stroke-width="0.8"/>
<path d="M311.20 248.90v-2.30" stroke="rgba(40,40,40,0.32)" stroke-width="0.8"/>
<path d="M311.20 16.30v2.30" stroke="#c4c4c4" stroke-width="0.8"/>
<path d="M324.25 248.90v-2.30" stroke="rgba(40,40,40,0.32)" stroke-width="0.8"/>
<path d="M324.25 16.30v2.30" stroke="#c4c4c4" stroke-width="0.8"/>
<path d="M337.30 248.90v-2.30" stroke="rgba(40,40,40,0.32)" stroke-width="0.8"/>
<path d="M337.30 16.30v2.30" stroke="#c4c4c4" stroke-width="0.8"/>
<path d="M350.35 248.90v-2.30" stroke="rgba(40,40,40,0.32)" stroke-width="0.8"/>
<path d="M350.35 16.30v2.30" stroke="#c4c4c4" stroke-width="0.8"/>
<path d="M363.40 248.90v-4.50" stroke="rgba(40,40,40,0.32)" stroke-width="0.8"/>
<path d="M363.40 16.30v4.50" stroke="#a6a6a6" stroke-width="0.8"/>
<path d="M376.45 248.90v-2.30" stroke="rgba(40,40,40,0.32)" stroke-width="0.8"/>
<path d="M376.45 16.30v2.30" stroke="#c4c4c4" stroke-width="0.8"/>
<path d="M389.50 248.90v-2.30" stroke="rgba(40,40,40,0.32)" stroke-width="0.8"/>
<path d="M389.50 16.30v2.30" stroke="#c4c4c4" stroke-width="0.8"/>
<path d="M402.55 248.90v-2.30" stroke="rgba(40,40,40,0.32)" stroke-width="0.8"/>
<path d="M402.55 16.30v2.30" stroke="#c4c4c4" stroke-width="0.8"/>
<path d="M415.60 248.90v-2.30" stroke="rgba(40,40,40,0.32)" stroke-width="0.8"/>
<path d="M415.60 16.30v2.30" stroke="#c4c4c4" stroke-width="0.8"/>
<g fill="#555">
<text x="102.85" y="265.0" font-size="12.2" text-anchor="middle">500</text>
<text x="168.10" y="265.0" font-size="12.2" text-anchor="middle">1000</text>
<text x="233.35" y="265.0" font-size="12.2" text-anchor="middle">1500</text>
<text x="298.60" y="265.0" font-size="12.2" text-anchor="middle">2000</text>
<text x="363.85" y="265.0" font-size="12.2" text-anchor="middle">2500</text>
<text x="429.10" y="265.0" font-size="12.2" text-anchor="middle">3000</text>
<text x="24.4" y="22.50" font-size="13.6">10</text>
<text x="38.7" y="17.60" font-size="9.4">−</text><text x="43.8" y="17.60" font-size="9.4">2</text>
<text x="24.4" y="64.72" font-size="13.6">10</text>
<text x="38.7" y="59.82" font-size="9.4">−</text><text x="43.8" y="59.82" font-size="9.4">3</text>
<text x="24.4" y="106.94" font-size="13.6">10</text>
<text x="38.7" y="102.04" font-size="9.4">−</text><text x="43.8" y="102.04" font-size="9.4">4</text>
<text x="24.4" y="149.16" font-size="13.6">10</text>
<text x="38.7" y="144.26" font-size="9.4">−</text><text x="43.8" y="144.26" font-size="9.4">5</text>
<text x="24.4" y="191.38" font-size="13.6">10</text>
<text x="38.7" y="186.48" font-size="9.4">−</text><text x="43.8" y="186.48" font-size="9.4">6</text>
<text x="24.4" y="233.60" font-size="13.6">10</text>
<text x="38.7" y="228.70" font-size="9.4">−</text><text x="43.8" y="228.70" font-size="9.4">7</text>
</g>
<g fill="#4d4d4d">
<text x="202.1" y="289.1" font-size="15.3" font-style="italic">M</text>
<text x="215.0" y="291.2" font-size="10.8" textLength="17.4" lengthAdjust="spacingAndGlyphs">WZ</text>
<text x="236.9" y="289.1" font-size="15.6" textLength="41.3" lengthAdjust="spacingAndGlyphs">(GeV)</text>
<g transform="translate(16.45,226.4) rotate(-90)">
<text x="0.00" y="0.00" font-size="15.3" font-style="italic">σ</text>
<text x="9.70" y="0.00" font-size="15.3">(</text>
<text x="16.70" y="0.00" font-size="15.3" font-style="italic">p</text>
<text x="28.10" y="0.00" font-size="15.3" font-style="italic">p</text>
<text x="36.60" y="-1.50" font-size="17.5">→</text>
<text x="55.10" y="0.00" font-size="15.3" font-style="italic">W</text>
<text x="70.00" y="-5.30" font-size="10.5">+</text>
<text x="76.50" y="0.00" font-size="15.3" font-style="italic">Z</text>
<text x="88.30" y="0.00" font-size="15.3" font-style="italic">j</text>
<text x="98.50" y="0.00" font-size="15.3" font-style="italic">j</text>
<text x="102.80" y="0.00" font-size="15.3">)</text>
<text x="109.65" y="0.00" font-size="15.3">[pb/20</text>
<text x="152.00" y="0.00" font-size="15.3">GeV]</text>
</g>
</g>
<rect x="315.4" y="24.8" width="105.9" height="58.5" fill="#fff" stroke="#555" stroke-width="1"/>
<rect x="322.2" y="34.3" width="26.4" height="5" fill="#beb40f"/>
<rect x="322.2" y="53.5" width="26.4" height="5.2" fill="#b44fe8"/>
<rect x="322.2" y="73.1" width="8.4" height="5.2" fill="#3fa0cc"/>
<rect x="330.6" y="73.1" width="8.9" height="5.2" fill="#14aa14"/>
<rect x="339.5" y="73.1" width="9.1" height="5.2" fill="#808080"/>
<g fill="#444" font-size="11">
<text x="351.8" y="37.1">SM−QCDEW</text>
<text x="351.8" y="56.2">SM−EW</text>
<text x="352.2" y="75.8">IAM−MC</text>
</g>
<rect x="131.6" y="37.1" width="27.8" height="19.6" fill="#fff" stroke="#6e6e6e" stroke-width="1"/>
<g font-weight="bold" fill="#444" stroke="#444" stroke-width="0.3" font-size="9.5">
<text x="133.9" y="51">a</text><text x="141.8" y="51" textLength="6.4" lengthAdjust="spacingAndGlyphs">=</text><text x="151.0" y="51">1</text>
</g>
<g font-weight="bold" font-size="10.7" stroke-width="0.25">
<text x="221.0" y="75.7" fill="#46a0c8" stroke="#46a0c8">BP1</text>
<text x="294.6" y="114.4" fill="#1eaf1e" stroke="#1eaf1e">BP2</text>
<text x="351.2" y="133.5" fill="#858585" stroke="none">BP3</text>
</g>
<g font-weight="bold" font-size="7.8" fill="#474c5a" stroke="#474c5a" stroke-width="0.2">
<path d="M77.5 232.4l1.1 -0.8l2.2 5.3l2.7 -10.4h6.6" fill="none" stroke="#474c5a" stroke-width="1.05"/>
<text x="84.6" y="234.9" font-style="italic">s</text><text x="90.8" y="234.9">=</text><text x="98.4" y="234.9">14</text><text x="109.5" y="234.9" textLength="12.7" lengthAdjust="spacingAndGlyphs">TeV</text>
</g>
</svg></body></html>
